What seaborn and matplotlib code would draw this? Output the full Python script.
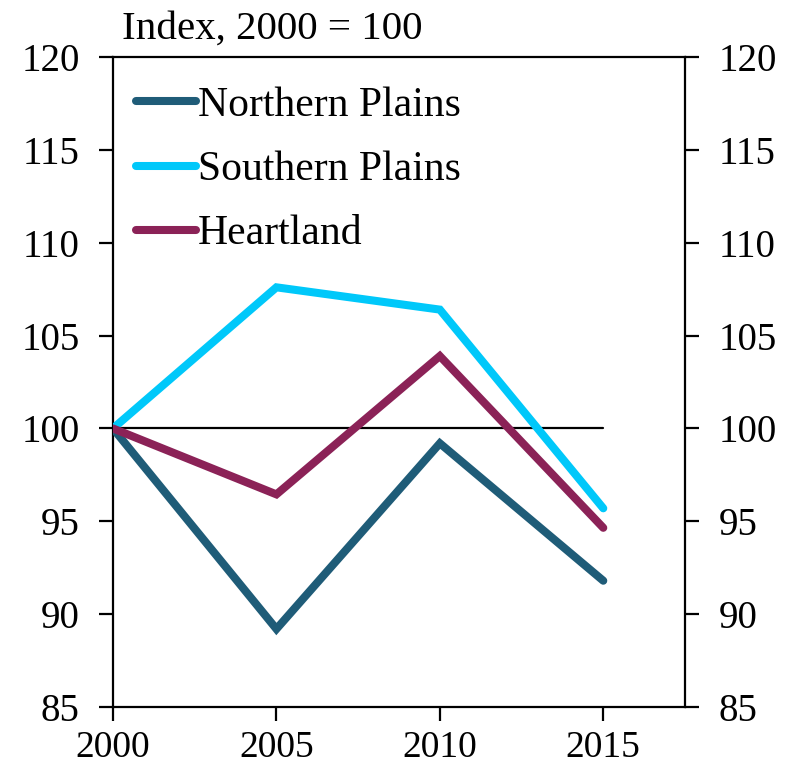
import matplotlib
matplotlib.use("Agg")
import matplotlib.pyplot as plt
import seaborn as sns
import pandas as pd

years = [2000, 2005, 2010, 2015]
northern_plains = [100.0, 89.2, 99.2, 91.8]
southern_plains = [100.0, 107.6, 106.4, 95.7]
heartland = [100.0, 96.45, 103.9, 94.65]
series_names = ["Northern Plains", "Southern Plains", "Heartland"]
colors = ["#1F5C78", "#00C8FA", "#8B2257"]
y_ticks = [85, 90, 95, 100, 105, 110, 115, 120]
x_ticks = [2000, 2005, 2010, 2015]

df = pd.DataFrame({
    "year": years * 3,
    "value": northern_plains + southern_plains + heartland,
    "region": sum([[n] * len(years) for n in series_names], []),
})

sns.set_style("ticks")
plt.rcParams["font.family"] = ["Liberation Serif", "DejaVu Serif"]
plt.rcParams["text.color"] = "black"
plt.rcParams["xtick.color"] = "black"
plt.rcParams["ytick.color"] = "black"
plt.rcParams["xtick.labelcolor"] = "black"
plt.rcParams["ytick.labelcolor"] = "black"

fig = plt.figure(figsize=(7.94, 7.71), dpi=100)
ax = fig.add_axes([0.1423, 0.083, 0.8627 - 0.1423, 0.926 - 0.083])

ax.plot([2000, 2015], [100, 100], color="black", lw=1.6, zorder=1)
sns.lineplot(data=df, x="year", y="value", hue="region", hue_order=series_names,
             palette=colors, lw=5.8, ax=ax, zorder=3,
             solid_capstyle="round", solid_joinstyle="miter")

ax.set_xlim(2000, 2017.5)
ax.set_ylim(85, 120)
ax.set_xticks(x_ticks)
ax.set_yticks(y_ticks)
ax.set_xlabel("")
ax.set_ylabel("")

for s in ax.spines.values():
    s.set_visible(True)
    s.set_linewidth(1.6)
    s.set_color("black")

ax.tick_params(axis="y", which="both", direction="out", length=10, width=1.6,
               left=True, right=True, labelleft=True, labelright=True,
               labelsize=28, pad=14)
ax.tick_params(axis="x", direction="out", length=10, width=1.6, labelsize=27, pad=7)

ax.text(0.015, 1.015, "Index, 2000 = 100", transform=ax.transAxes,
        fontsize=29.5, ha="left", va="bottom")

leg = ax.legend(loc="upper left", frameon=False, fontsize=30,
                handlelength=1.45, handletextpad=0.03, labelspacing=0.62,
                borderaxespad=0.0, borderpad=0.0, bbox_to_anchor=(0.04, 0.955))
for h in leg.get_lines():
    h.set_linewidth(5.8)
    h.set_solid_capstyle("round")

fig.savefig("out.png", dpi=100)
